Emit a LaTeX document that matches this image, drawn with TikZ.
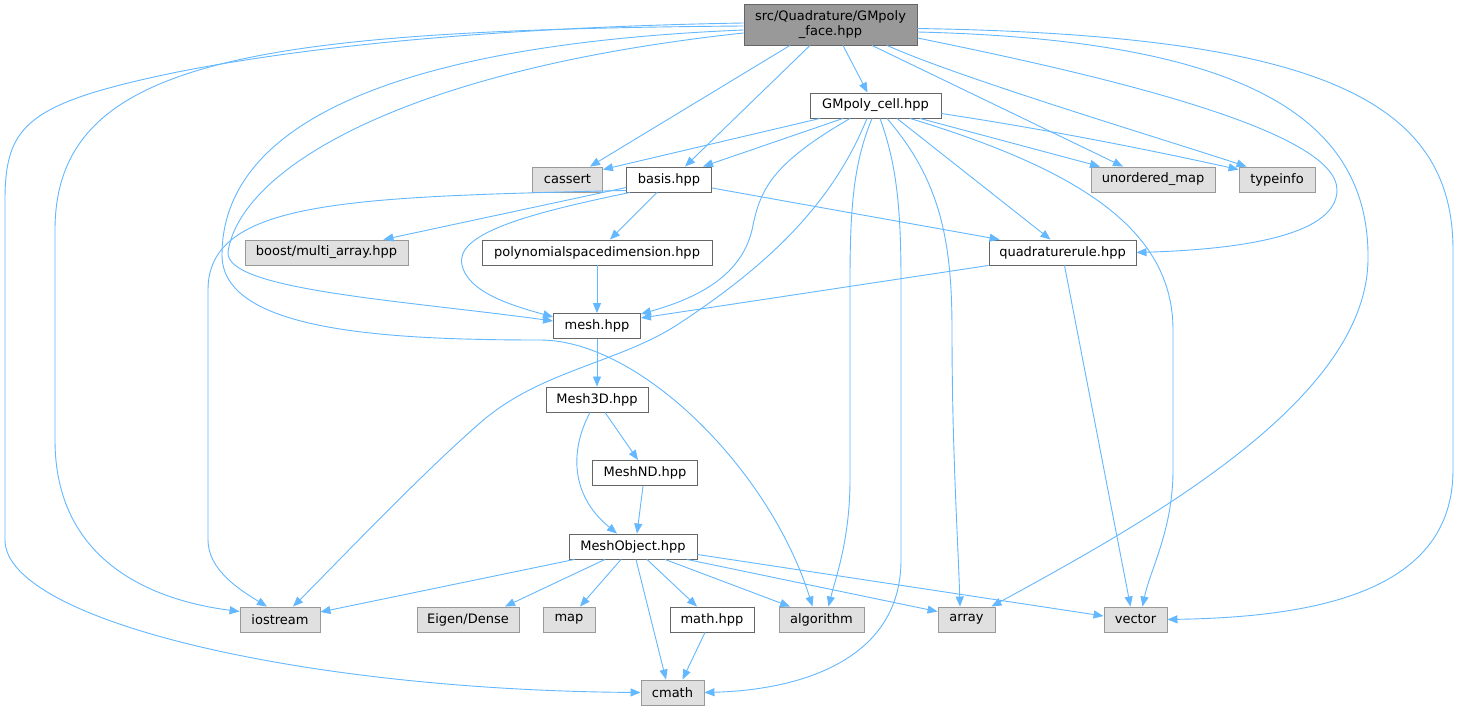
\documentclass[tikz,border=0pt]{standalone}
\usepackage{fontspec}
\setmainfont{DejaVu Sans}
\usetikzlibrary{arrows.meta}
\definecolor{edgec}{HTML}{63B8FF}
\definecolor{gfill}{HTML}{E0E0E0}
\definecolor{gdraw}{HTML}{999999}
\definecolor{wdraw}{HTML}{666666}
\definecolor{rfill}{HTML}{999999}
\tikzset{
  box/.style={rectangle, inner sep=0pt, minimum height=25pt, line width=0.9pt,
    font=\fontsize{13pt}{15pt}\selectfont, text=black},
  gbox/.style={box, fill=gfill, draw=gdraw},
  wbox/.style={box, fill=white, draw=wdraw},
  rbox/.style={box, fill=rfill, draw=wdraw, align=center},
  edge/.style={draw=edgec, line width=0.9pt, -{Triangle[length=10pt,width=8pt]}, color=edgec}
}
\begin{document}
\begin{tikzpicture}[x=1pt,y=-1pt]
\useasboundingbox (0,0) rectangle (1460,711);
\fill[white] (0,0) rectangle (1460,711);

% nodes
\node[rbox, minimum width=173pt, minimum height=41pt] (root) at (830.5,24.5) {src/Quadrature/GMpoly\\\_face.hpp};
\node[wbox, minimum width=131pt] (cell) at (875.5,105.5) {GMpoly\_cell.hpp};
\node[gbox, minimum width=70pt] (cassert) at (567.5,179.5) {cassert};
\node[wbox, minimum width=85pt] (basis) at (669,179.5) {basis.hpp};
\node[gbox, minimum width=124pt] (umap) at (1153,179.5) {unordered\_map};
\node[gbox, minimum width=76pt] (typeinfo) at (1277,179.5) {typeinfo};
\node[gbox, minimum width=163pt] (boost) at (326.5,252.5) {boost/multi\_array.hpp};
\node[wbox, minimum width=230pt] (poly) at (597,252.5) {polynomialspacedimension.hpp};
\node[wbox, minimum width=147pt] (quad) at (1062.5,252.5) {quadraturerule.hpp};
\node[wbox, minimum width=87pt] (mesh) at (597,326) {mesh.hpp};
\node[wbox, minimum width=102pt] (mesh3d) at (597,399.5) {Mesh3D.hpp};
\node[wbox, minimum width=105pt] (meshnd) at (645,473) {MeshND.hpp};
\node[wbox, minimum width=128pt] (meshobj) at (633,546.5) {MeshObject.hpp};
\node[gbox, minimum width=80pt] (iostream) at (280,619.5) {iostream};
\node[gbox, minimum width=102pt] (eigen) at (468,619.5) {Eigen/Dense};
\node[gbox, minimum width=52pt] (map) at (569,619.5) {map};
\node[wbox, minimum width=84pt] (math) at (712,619.5) {math.hpp};
\node[gbox, minimum width=85pt] (algorithm) at (821.5,619.5) {algorithm};
\node[gbox, minimum width=57pt] (array) at (966.5,619.5) {array};
\node[gbox, minimum width=63pt] (vector) at (1135.5,619.5) {vector};
\node[gbox, minimum width=63pt] (cmath) at (672.5,692.5) {cmath};

% edges from root
\draw[edge] ([xshift=12.5pt]root.south) -- ([xshift=-8pt]cell.north);
\draw[edge] ([xshift=-40.5pt]root.south) -- ([xshift=22.5pt]cassert.north);
\draw[edge] ([xshift=-20.5pt]root.south) -- ([xshift=16pt]basis.north);
\draw[edge] ([xshift=41.5pt]root.south) -- ([xshift=-30pt]umap.north);
\draw[edge] ([xshift=56.5pt]root.south) .. controls (960,78) and (1150,135) .. ([xshift=8pt]typeinfo.north west);
\draw[edge] ([yshift=-13.5pt]root.east) .. controls (1100,75) and (1337,130) .. (1337,190)
   .. controls (1337,240) and (1220,250) .. (quad.east);
\draw[edge] ([yshift=-7.5pt]root.east) .. controls (1250,40) and (1370,120) .. (1368,260)
   .. controls (1366,400) and (1150,520) .. ([xshift=25pt]array.north);
\draw[edge] ([yshift=-4pt]root.east) .. controls (1320,35) and (1453,100) .. (1453,250)
   -- (1453,470) .. controls (1453,590) and (1320,617) .. (vector.east);
\draw[edge] ([yshift=-8.5pt]root.west) .. controls (400,70) and (240,170) .. (228,252)
   .. controls (225,290) and (400,300) .. ([yshift=5pt]mesh.west);
\draw[edge] ([yshift=-5.5pt]root.west) .. controls (380,45) and (222,130) .. (222,255)
   .. controls (222,330) and (380,340) .. (540,340)
   .. controls (640,340) and (770,470) .. ([xshift=-9pt]algorithm.north);
\draw[edge] ([yshift=-1.5pt]root.west) .. controls (250,30) and (55,60) .. (55,230)
   -- (55,440) .. controls (55,560) and (150,600) .. ([yshift=8pt]iostream.west);
\draw[edge] ([yshift=1.5pt]root.west) .. controls (450,28) and (220,55) .. (95,92)
   .. controls (20,115) and (5,140) .. (5,200)
   -- (5,540) .. controls (5,620) and (300,690) .. (cmath.west);

% edges from GMpoly_cell
\draw[edge] ([xshift=-55.5pt]cell.south) -- ([yshift=-3pt]cassert.north east);
\draw[edge] ([xshift=-32.5pt]cell.south) -- ([xshift=34pt]basis.north);
\draw[edge] ([xshift=44.5pt]cell.south) -- ([xshift=-53pt]umap.north);
\draw[edge] ([yshift=-8pt]cell.east) .. controls (1050,130) and (1150,150) .. ([yshift=-3pt]typeinfo.north west);
\draw[edge] ([xshift=21.5pt]cell.south) -- ([xshift=-12pt]quad.north);
\draw[edge] ([xshift=34.5pt]cell.south) .. controls (1080,170) and (1173,230) .. (1173,330)
   -- (1173,470) .. controls (1173,530) and (1150,570) .. ([xshift=7pt]vector.north);
\draw[edge] ([xshift=11.5pt]cell.south) .. controls (940,180) and (952,240) .. (952,330)
   .. controls (952,450) and (958,540) .. ([xshift=-6.5pt]array.north);
\draw[edge] ([xshift=4.5pt]cell.south) .. controls (895,160) and (901,200) .. (901,280)
   -- (901,560) .. controls (901,660) and (800,690) .. (cmath.east);
\draw[edge] ([xshift=-3.5pt]cell.south) .. controls (855,160) and (850,200) .. (850,280)
   -- (850,480) .. controls (850,540) and (835,580) .. ([xshift=7pt]algorithm.north);
\draw[edge] ([xshift=-8.5pt]cell.south) .. controls (830,210) and (760,270) .. (680,323)
   .. controls (620,363) and (540,370) .. (480,423)
   .. controls (420,475) and (330,570) .. ([xshift=13pt]iostream.north);
\draw[edge] ([xshift=-25.5pt]cell.south) .. controls (770,165) and (760,190) .. (752,230)
   .. controls (740,280) and (690,300) .. ([yshift=-1pt]mesh.north east);

% edges from basis
\draw[edge] ([yshift=-8pt]basis.west) -- ([xshift=-25pt]boost.north east);
\draw[edge] ([xshift=-12pt]basis.south) -- ([xshift=13pt]poly.north);
\draw[edge] ([yshift=-8.5pt]basis.east) -- ([xshift=11pt]quad.north west);
\draw[edge] ([xshift=4pt]basis.south west) .. controls (520,215) and (455,235) .. (462,265)
   .. controls (468,292) and (510,305) .. ([yshift=9pt]mesh.west);
\draw[edge] ([yshift=2pt]basis.south west) .. controls (350,197) and (208,200) .. (208,290)
   -- (208,540) .. controls (208,570) and (240,590) .. ([xshift=-13pt]iostream.north);

% other edges
\draw[edge] (poly.south) -- (mesh.north);
\draw[edge] (quad.south west) -- ([yshift=8pt]mesh.east);
\draw[edge] ([xshift=2pt]quad.south) -- ([xshift=-5pt]vector.north);
\draw[edge] (mesh.south) -- (mesh3d.north);
\draw[edge] ([xshift=8pt]mesh3d.south) -- ([xshift=-7pt]meshnd.north);
\draw[edge] ([xshift=-7pt]mesh3d.south) .. controls (570,450) and (570,495) .. ([xshift=-16pt]meshobj.north);
\draw[edge] ([xshift=-2pt]meshnd.south) -- ([xshift=4pt]meshobj.north);

% edges from MeshObject
\draw[edge] ([xshift=6pt]meshobj.south west) -- ([yshift=7.5pt]iostream.east);
\draw[edge] ([xshift=-28pt]meshobj.south) -- ([xshift=37pt]eigen.north);
\draw[edge] ([xshift=-12pt]meshobj.south) -- ([xshift=11pt]map.north);
\draw[edge] ([xshift=3pt]meshobj.south) -- ([xshift=-6.5pt]cmath.north);
\draw[edge] ([xshift=14pt]meshobj.south) -- ([xshift=-15pt]math.north);
\draw[edge] ([xshift=32pt]meshobj.south) -- ([xshift=-31.5pt]algorithm.north);
\draw[edge] ([xshift=54pt]meshobj.south) -- ([yshift=-5pt]array.north west);
\draw[edge] ([yshift=-8pt]meshobj.east) -- ([yshift=3.5pt]vector.west);
\draw[edge] ([xshift=-7pt]math.south) -- ([xshift=10pt]cmath.north);
\end{tikzpicture}
\end{document}
